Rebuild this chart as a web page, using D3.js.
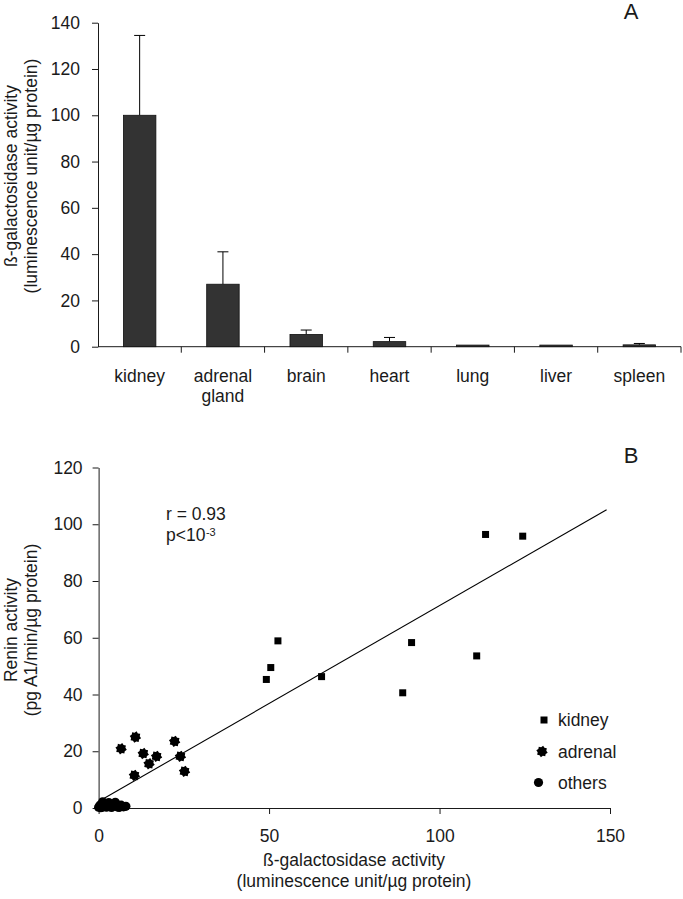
<!DOCTYPE html>
<html><head><meta charset="utf-8">
<script src="https://cdn.jsdelivr.net/npm/d3@7"></script>
<style>
body{margin:0;background:#fff;}
svg{display:block;font-family:"Liberation Sans",Arial,sans-serif;}
</style></head>
<body><svg id="c" width="683" height="899"></svg>
<script>
// ---- Panel A data ----
const categories = ["kidney", "adrenal gland", "brain", "heart", "lung", "liver", "spleen"];
const meanValues = [100, 27, 5.3, 2.2, 0.7, 0.7, 0.8];
const errorValues = [34.5, 14, 1.9, 1.8, 0, 0, 0.6];
const yTicksA = [0, 20, 40, 60, 80, 100, 120, 140];

// ---- Panel B data ----
const kidneyX = [113.5, 124.4, 52.6, 50.5, 49.2, 65.4, 91.8, 110.9, 89.2];
const kidneyY = [96.4, 95.8, 58.9, 49.5, 45.3, 46.3, 58.3, 53.6, 40.6];
const adrenalX = [6.6, 10.8, 13.1, 14.8, 17.0, 10.5, 22.3, 24.0, 25.2];
const adrenalY = [20.9, 25.0, 19.2, 15.6, 18.2, 11.5, 23.5, 18.2, 12.9];
const othersX = [0.0, 0.4, 0.9, 1.3, 1.8, 2.3, 2.8, 3.3, 3.8, 4.3, 4.9, 5.4, 6.0, 6.6, 7.3, 8.0, 1.2, 3.0, 0.6];
const othersY = [0.3, 1.0, 0.2, 1.6, 0.7, 0.3, 1.3, 0.5, 0.2, 1.0, 2.0, 0.4, 0.2, 1.0, 0.4, 0.6, 2.2, 1.9, 0.1];
const regIntercept = 2.3, regSlope = 0.69, regRange = [0.5, 149];
const xTicksB = [0, 50, 100, 150];
const yTicksB = [0, 20, 40, 60, 80, 100, 120];
const legendItems = ["kidney", "adrenal", "others"];

const svg = d3.select("#c");
const FS = 17.5;
const ink = "#1a1a1a";

// ================= Panel A =================
const xA = d3.scaleBand().domain(categories).range([98, 681]).padding(0);
const yA = d3.scaleLinear().domain([0, 140]).range([346.7, 22.7]);

const gAy = svg.append("g").attr("transform", "translate(98,0)")
  .call(d3.axisLeft(yA).tickValues(yTicksA).tickSize(6).tickPadding(12).tickSizeOuter(0));
gAy.selectAll("text").attr("font-size", FS).attr("font-family", "Liberation Sans, Arial").attr("fill", ink);
gAy.selectAll("line,path").attr("stroke", ink);

// x axis line + boundary ticks
const gAx = svg.append("g").attr("transform", `translate(0,${yA(0)})`);
gAx.append("line").attr("x1", xA.range()[0]).attr("x2", xA.range()[1]).attr("stroke", ink);
const bounds = categories.map(c => xA(c)).concat([xA.range()[1]]);
gAx.selectAll("line.tk").data(bounds.slice(1)).join("line").attr("class", "tk")
  .attr("x1", d => d).attr("x2", d => d).attr("y1", 0).attr("y2", 6).attr("stroke", ink);
// category labels
const lab = svg.append("g").selectAll("text").data(categories).join("text")
  .attr("x", d => xA(d) + xA.bandwidth() / 2).attr("y", 382)
  .attr("text-anchor", "middle").attr("font-size", FS).attr("fill", ink);
lab.each(function (d) {
  const parts = d.split(" ");
  const t = d3.select(this);
  parts.forEach((p, i) => t.append("tspan").attr("x", xA(d) + xA.bandwidth() / 2).attr("dy", i ? 19.5 : 0).text(p));
});

const barW = xA.bandwidth() * 0.39;
// error bars
const eb = svg.append("g").attr("stroke", "#000").attr("stroke-width", 1);
categories.forEach((c, i) => {
  if (errorValues[i] <= 0) return;
  const cx = xA(c) + xA.bandwidth() / 2;
  const top = yA(meanValues[i] + errorValues[i]);
  eb.append("line").attr("x1", cx).attr("x2", cx).attr("y1", yA(meanValues[i])).attr("y2", top);
  eb.append("line").attr("x1", cx - 5.5).attr("x2", cx + 5.5).attr("y1", top).attr("y2", top);
});
svg.append("g").selectAll("rect").data(categories).join("rect")
  .attr("x", d => xA(d) + (xA.bandwidth() - barW) / 2)
  .attr("width", barW)
  .attr("y", (d, i) => yA(meanValues[i]))
  .attr("height", (d, i) => yA(0) - yA(meanValues[i]))
  .attr("fill", "#333").attr("stroke", "#111").attr("stroke-width", 0.8);

// y title A
const tA = svg.append("text").attr("transform", "translate(17,176) rotate(-90)")
  .attr("text-anchor", "middle").attr("font-size", FS).attr("fill", ink);
tA.append("tspan").attr("x", 0).attr("dy", 0).text("ß-galactosidase activity");
tA.append("tspan").attr("x", 0).attr("dy", 19.5).text("(luminescence unit/µg protein)");

svg.append("text").attr("x", 631).attr("y", 19).attr("text-anchor", "middle")
  .attr("font-size", 22).attr("fill", ink).text("A");

// ================= Panel B =================
const xB = d3.scaleLinear().domain([0, 150]).range([98.6, 610]);
const yB = d3.scaleLinear().domain([0, 120]).range([808, 467.5]);

const gBy = svg.append("g").attr("transform", `translate(${xB(0)},0)`)
  .call(d3.axisLeft(yB).tickValues(yTicksB).tickSize(6).tickPadding(10).tickSizeOuter(0));
gBy.selectAll("text").attr("font-size", FS).attr("font-family", "Liberation Sans, Arial").attr("fill", ink);
gBy.selectAll("line,path").attr("stroke", ink);

const gBx = svg.append("g").attr("transform", `translate(0,${yB(0)})`)
  .call(d3.axisBottom(xB).tickValues(xTicksB).tickSize(6).tickPadding(16).tickSizeOuter(0));
gBx.selectAll("text").attr("font-size", FS).attr("font-family", "Liberation Sans, Arial").attr("fill", ink);
gBx.selectAll("line,path").attr("stroke", ink);

// regression line
svg.append("line")
  .attr("x1", xB(regRange[0])).attr("y1", yB(regIntercept + regSlope * regRange[0]))
  .attr("x2", xB(regRange[1])).attr("y2", yB(regIntercept + regSlope * regRange[1]))
  .attr("stroke", "#000").attr("stroke-width", 1.1);

// marker shapes
function gearPath(r1, r2, n) {
  const pts = [];
  for (let k = 0; k < n * 2; k++) {
    const a = Math.PI * k / n + Math.PI / (2 * n);
    const r = k % 2 ? r2 : r1;
    pts.push([r * Math.cos(a), r * Math.sin(a)]);
  }
  return "M" + pts.map(p => p.join(",")).join("L") + "Z";
}
const adrenalShape = gearPath(5.8, 4.4, 8);

svg.append("g").selectAll("circle").data(othersX).join("circle")
  .attr("cx", d => xB(d)).attr("cy", (d, i) => yB(othersY[i])).attr("r", 4.6).attr("fill", "#000");
svg.append("g").selectAll("path").data(adrenalX).join("path")
  .attr("d", adrenalShape)
  .attr("transform", (d, i) => `translate(${xB(d)},${yB(adrenalY[i])})`).attr("fill", "#000");
svg.append("g").selectAll("rect").data(kidneyX).join("rect")
  .attr("x", d => xB(d) - 3.5).attr("y", (d, i) => yB(kidneyY[i]) - 3.5)
  .attr("width", 7).attr("height", 7).attr("fill", "#000");

// stats text
svg.append("text").attr("x", 166).attr("y", 520).attr("font-size", FS).attr("fill", ink).text("r = 0.93");
const pt = svg.append("text").attr("x", 166).attr("y", 541).attr("font-size", FS).attr("fill", ink).text("p<10");
const pw = pt.node().getComputedTextLength();
svg.append("text").attr("x", 166 + pw + 0.5).attr("y", 535.5).attr("font-size", 11).attr("fill", ink).text("-3");

// legend
const legY = [720, 751.5, 782.5];
const lg = svg.append("g");
lg.append("rect").attr("x", 544 - 3.5).attr("y", legY[0] - 3.5).attr("width", 7).attr("height", 7).attr("fill", "#000");
lg.append("path").attr("d", adrenalShape).attr("transform", `translate(542,${legY[1]})`).attr("fill", "#000");
lg.append("circle").attr("cx", 538.5).attr("cy", legY[2]).attr("r", 4.6).attr("fill", "#000");
lg.selectAll("text").data(legendItems).join("text")
  .attr("x", 558).attr("y", (d, i) => legY[i] + 6).attr("font-size", FS).attr("fill", ink).text(d => d);

// axis titles B
const tBx = svg.append("text").attr("text-anchor", "middle").attr("font-size", FS).attr("fill", ink);
tBx.append("tspan").attr("x", 354).attr("y", 866).text("ß-galactosidase activity");
tBx.append("tspan").attr("x", 354).attr("y", 887).text("(luminescence unit/µg protein)");

const tBy = svg.append("text").attr("transform", "translate(17,630) rotate(-90)")
  .attr("text-anchor", "middle").attr("font-size", FS).attr("fill", ink);
tBy.append("tspan").attr("x", 0).attr("dy", 0).text("Renin activity");
tBy.append("tspan").attr("x", 0).attr("dy", 19.5).text("(pg A1/min/µg protein)");

svg.append("text").attr("x", 631).attr("y", 463).attr("text-anchor", "middle")
  .attr("font-size", 22).attr("fill", ink).text("B");
</script></body></html>
